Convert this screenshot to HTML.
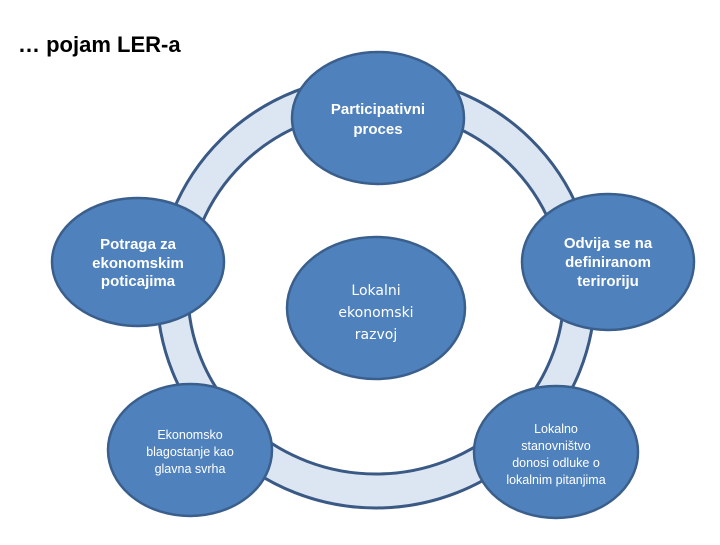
<!DOCTYPE html>
<html><head><style>
body{margin:0;width:720px;height:540px;background:#fff;overflow:hidden;font-family:"Liberation Sans",sans-serif}
</style></head><body>
<svg width="720" height="540" xmlns="http://www.w3.org/2000/svg">
<text x="18" y="52" font-family="Liberation Sans" font-size="22" font-weight="bold" fill="#000">… pojam LER-a</text>
<ellipse cx="376" cy="292" rx="219" ry="216" fill="#dce6f2" stroke="#3a5a85" stroke-width="3"/>
<ellipse cx="376" cy="292" rx="188" ry="182" fill="#fff" stroke="#3a5a85" stroke-width="3"/>
<g fill="#4f81bd" stroke="#3a5f8c" stroke-width="2.5">
<ellipse cx="378" cy="118" rx="86" ry="66"/>
<ellipse cx="138" cy="262" rx="86" ry="64"/>
<ellipse cx="608" cy="262" rx="86" ry="68"/>
<ellipse cx="190" cy="450" rx="82" ry="66"/>
<ellipse cx="556" cy="452" rx="82" ry="66"/>
<ellipse cx="376" cy="308" rx="89" ry="71"/>
</g>
<g fill="#fff" font-family="Liberation Sans" text-anchor="middle">
<g font-size="15" font-weight="bold"><text x="378" y="114">Participativni</text><text x="378" y="134">proces</text>
<text x="138" y="249">Potraga za</text><text x="138" y="268">ekonomskim</text><text x="138" y="286">poticajima</text>
<text x="608" y="248">Odvija se na</text><text x="608" y="267">definiranom</text><text x="608" y="286">teriroriju</text></g>
<g font-size="14" font-family="DejaVu Sans"><text x="376" y="295">Lokalni</text><text x="376" y="317">ekonomski</text><text x="376" y="339">razvoj</text></g>
<g font-size="12.5"><text x="190" y="439">Ekonomsko</text><text x="190" y="456">blagostanje kao</text><text x="190" y="473">glavna svrha</text>
<text x="556" y="433">Lokalno</text><text x="556" y="450">stanovništvo</text><text x="556" y="467">donosi odluke o</text><text x="556" y="484">lokalnim pitanjima</text></g>
</g>
</svg>
</body></html>
